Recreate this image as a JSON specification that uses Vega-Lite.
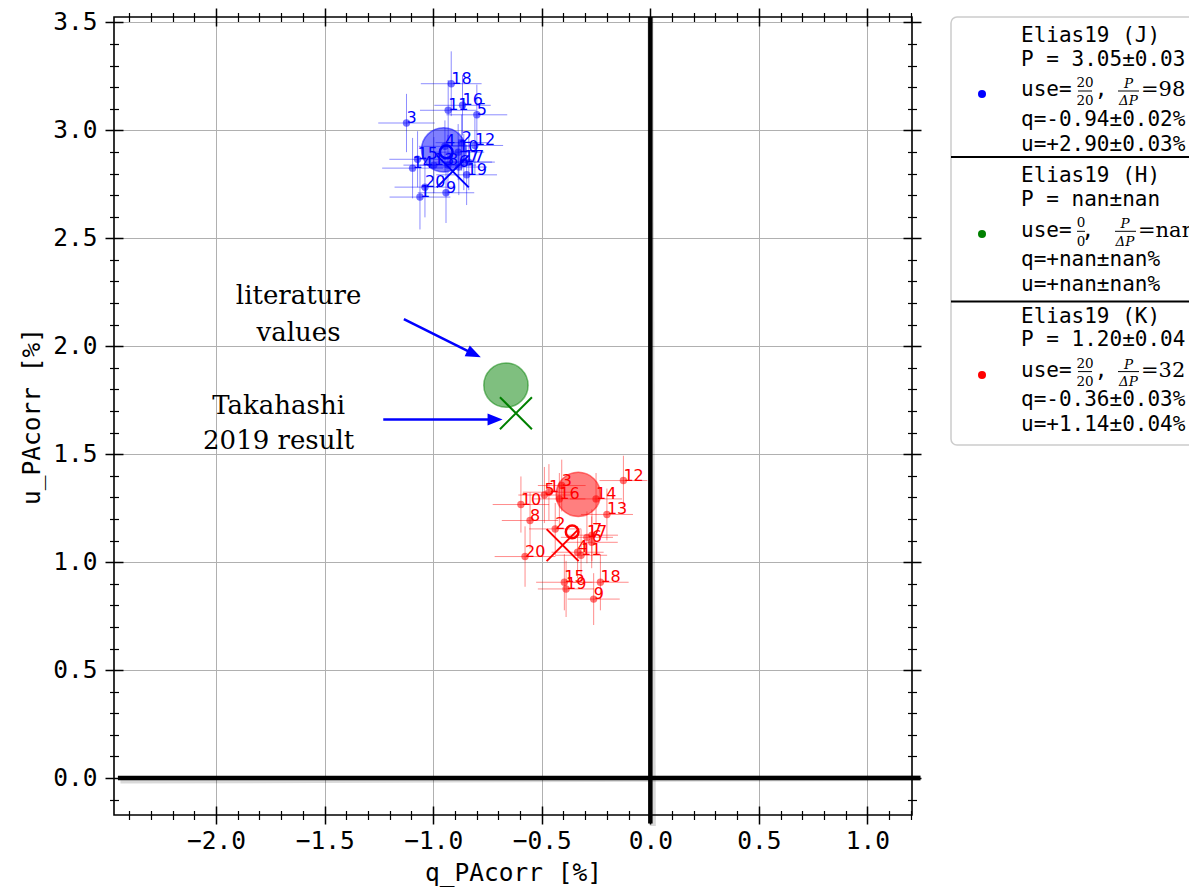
{
  "$schema": "https://vega.github.io/schema/vega-lite/v6.json",
  "background": "white",
  "padding": {"left": 18, "top": 6, "right": 0, "bottom": 14},
  "config": {
    "axis": {
      "domain": false,
      "grid": false,
      "tickColor": "#000000",
      "tickWidth": 1.5,
      "labelColor": "#000000",
      "labelFont": "DejaVu Sans Mono",
      "labelFontSize": 24.5,
      "labelFlush": false,
      "labelOverlap": false,
      "titleFont": "DejaVu Sans Mono",
      "titleFontSize": 24.5,
      "titleFontWeight": "normal",
      "titleColor": "#000000",
      "gridColor": "#b0b0b0",
      "gridWidth": 1
    }
  },
  "datasets": {
    "stars": [
      {"band": "J", "id": "1", "q": -1.061, "u": 2.691, "dq": 0.14, "du": 0.15},
      {"band": "J", "id": "2", "q": -0.869, "u": 2.943, "dq": 0.12, "du": 0.13},
      {"band": "J", "id": "3", "q": -1.123, "u": 3.034, "dq": 0.13, "du": 0.135},
      {"band": "J", "id": "4", "q": -0.946, "u": 2.926, "dq": 0.12, "du": 0.12},
      {"band": "J", "id": "5", "q": -0.799, "u": 3.072, "dq": 0.14, "du": 0.14},
      {"band": "J", "id": "6", "q": -0.882, "u": 2.83, "dq": 0.13, "du": 0.13},
      {"band": "J", "id": "7", "q": -0.836, "u": 2.853, "dq": 0.12, "du": 0.13},
      {"band": "J", "id": "8", "q": -0.932, "u": 2.839, "dq": 0.13, "du": 0.14},
      {"band": "J", "id": "9", "q": -0.941, "u": 2.711, "dq": 0.13, "du": 0.14},
      {"band": "J", "id": "10", "q": -0.885, "u": 2.899, "dq": 0.12, "du": 0.13},
      {"band": "J", "id": "11", "q": -0.931, "u": 3.093, "dq": 0.13, "du": 0.14},
      {"band": "J", "id": "12", "q": -0.808, "u": 2.93, "dq": 0.13, "du": 0.13},
      {"band": "J", "id": "13", "q": -0.997, "u": 2.839, "dq": 0.14, "du": 0.13},
      {"band": "J", "id": "14", "q": -1.095, "u": 2.825, "dq": 0.14, "du": 0.14},
      {"band": "J", "id": "15", "q": -1.072, "u": 2.866, "dq": 0.13, "du": 0.13},
      {"band": "J", "id": "16", "q": -0.865, "u": 3.116, "dq": 0.13, "du": 0.14},
      {"band": "J", "id": "17", "q": -0.859, "u": 2.853, "dq": 0.13, "du": 0.13},
      {"band": "J", "id": "18", "q": -0.917, "u": 3.216, "dq": 0.14, "du": 0.15},
      {"band": "J", "id": "19", "q": -0.846, "u": 2.794, "dq": 0.14, "du": 0.14},
      {"band": "J", "id": "20", "q": -1.038, "u": 2.737, "dq": 0.14, "du": 0.14},
      {"band": "K", "id": "1", "q": -0.467, "u": 1.324, "dq": 0.12, "du": 0.13},
      {"band": "K", "id": "2", "q": -0.438, "u": 1.154, "dq": 0.12, "du": 0.12},
      {"band": "K", "id": "3", "q": -0.408, "u": 1.355, "dq": 0.11, "du": 0.12},
      {"band": "K", "id": "4", "q": -0.335, "u": 1.046, "dq": 0.12, "du": 0.12},
      {"band": "K", "id": "5", "q": -0.488, "u": 1.311, "dq": 0.12, "du": 0.13},
      {"band": "K", "id": "6", "q": -0.27, "u": 1.092, "dq": 0.12, "du": 0.12},
      {"band": "K", "id": "7", "q": -0.269, "u": 1.125, "dq": 0.12, "du": 0.12},
      {"band": "K", "id": "8", "q": -0.554, "u": 1.193, "dq": 0.13, "du": 0.13},
      {"band": "K", "id": "9", "q": -0.261, "u": 0.829, "dq": 0.12, "du": 0.12},
      {"band": "K", "id": "10", "q": -0.596, "u": 1.267, "dq": 0.13, "du": 0.13},
      {"band": "K", "id": "11", "q": -0.319, "u": 1.032, "dq": 0.12, "du": 0.12},
      {"band": "K", "id": "12", "q": -0.124, "u": 1.378, "dq": 0.11, "du": 0.115},
      {"band": "K", "id": "13", "q": -0.2, "u": 1.221, "dq": 0.12, "du": 0.12},
      {"band": "K", "id": "14", "q": -0.25, "u": 1.293, "dq": 0.12, "du": 0.12},
      {"band": "K", "id": "15", "q": -0.396, "u": 0.907, "dq": 0.13, "du": 0.13},
      {"band": "K", "id": "16", "q": -0.419, "u": 1.293, "dq": 0.12, "du": 0.12},
      {"band": "K", "id": "17", "q": -0.292, "u": 1.115, "dq": 0.12, "du": 0.12},
      {"band": "K", "id": "18", "q": -0.23, "u": 0.907, "dq": 0.13, "du": 0.13},
      {"band": "K", "id": "19", "q": -0.388, "u": 0.876, "dq": 0.13, "du": 0.13},
      {"band": "K", "id": "20", "q": -0.577, "u": 1.026, "dq": 0.14, "du": 0.14}
    ],
    "literature": [
      {"band": "J", "q": -0.952, "u": 2.91},
      {"band": "H", "q": -0.665, "u": 1.82},
      {"band": "K", "q": -0.332, "u": 1.314}
    ],
    "takahashi": [
      {"band": "J", "q": -0.91, "u": 2.81},
      {"band": "H", "q": -0.619, "u": 1.69},
      {"band": "K", "q": -0.404, "u": 1.079}
    ],
    "elias_mean": [
      {"band": "J", "q": -0.94, "u": 2.9},
      {"band": "K", "q": -0.36, "u": 1.14}
    ],
    "zero_lines": [
      {"q1": -2.452, "q2": 1.244, "u1": 0, "u2": 0},
      {"q1": 0, "q2": 0, "u1": -0.21, "u2": 3.525}
    ],
    "arrow_shafts": [
      {"arrow": "literature", "q1": -1.135, "u1": 2.126, "q2": -0.812, "u2": 1.964},
      {"arrow": "takahashi", "q1": -1.23, "u1": 1.661, "q2": -0.715, "u2": 1.661}
    ],
    "notes": [
      {"q": -1.62, "u": 2.195, "text": "literature"},
      {"q": -1.62, "u": 2.024, "text": "values"},
      {"q": -1.712, "u": 1.687, "text": "Takahashi"},
      {"q": -1.712, "u": 1.525, "text": "2019 result"}
    ],
    "legend_mono": [
      {"x": 70, "y": 25, "text": "Elias19 (J)"},
      {"x": 70, "y": 48.6, "text": "P = 3.05±0.03"},
      {"x": 70, "y": 79.2, "text": "use="},
      {"x": 143.7, "y": 79.2, "text": ","},
      {"x": 70, "y": 108.6, "text": "q=-0.94±0.02%"},
      {"x": 70, "y": 133.7, "text": "u=+2.90±0.03%"},
      {"x": 70, "y": 165.3, "text": "Elias19 (H)"},
      {"x": 70, "y": 188.9, "text": "P = nan±nan"},
      {"x": 70, "y": 219.5, "text": "use="},
      {"x": 130.4, "y": 219.5, "text": ","},
      {"x": 70, "y": 248.9, "text": "q=+nan±nan%"},
      {"x": 70, "y": 274, "text": "u=+nan±nan%"},
      {"x": 70, "y": 305.6, "text": "Elias19 (K)"},
      {"x": 70, "y": 329.2, "text": "P = 1.20±0.04"},
      {"x": 70, "y": 359.8, "text": "use="},
      {"x": 143.7, "y": 359.8, "text": ","},
      {"x": 70, "y": 389.2, "text": "q=-0.36±0.03%"},
      {"x": 70, "y": 414.3, "text": "u=+1.14±0.04%"}
    ],
    "legend_frac_num": [
      {"x": 134, "y": 70, "text": "20"},
      {"x": 134, "y": 88.3, "text": "20"},
      {"x": 130, "y": 210.3, "text": "0"},
      {"x": 130, "y": 228.6, "text": "0"},
      {"x": 134, "y": 350.6, "text": "20"},
      {"x": 134, "y": 368.9, "text": "20"}
    ],
    "legend_frac_sym": [
      {"x": 177.5, "y": 71, "text": "P"},
      {"x": 177.5, "y": 88.3, "text": "ΔP"},
      {"x": 174, "y": 211.3, "text": "P"},
      {"x": 174, "y": 228.6, "text": "ΔP"},
      {"x": 177.5, "y": 351.6, "text": "P"},
      {"x": 177.5, "y": 368.9, "text": "ΔP"}
    ],
    "legend_frac_bars": [
      {"x1": 127, "x2": 141, "y": 74},
      {"x1": 167, "x2": 188, "y": 74},
      {"x1": 126, "x2": 134, "y": 214.3},
      {"x1": 164, "x2": 185, "y": 214.3},
      {"x1": 127, "x2": 141, "y": 354.6},
      {"x1": 167, "x2": 188, "y": 354.6}
    ],
    "legend_ratio": [
      {"x": 190, "y": 79.2, "text": "=98"},
      {"x": 187, "y": 219.5, "text": "=nan"},
      {"x": 190, "y": 359.8, "text": "=32"}
    ],
    "legend_dividers": [
      {"x1": 0, "x2": 250, "y": 140},
      {"x1": 0, "x2": 250, "y": 284.5}
    ],
    "legend_dots": [
      {"band": "J", "x": 31, "y": 77},
      {"band": "H", "x": 31, "y": 217},
      {"band": "K", "x": 31, "y": 358}
    ]
  },
  "hconcat": [
    {
      "width": 798,
      "height": 798,
      "view": {"stroke": "#000000", "strokeWidth": 1.6},
      "resolve": {"axis": {"x": "independent", "y": "independent"}},
      "layer": [
        {
          "data": {"name": "zero_lines"},
          "mark": {"type": "rule", "stroke": "#000000", "strokeWidth": 6, "opacity": 0.15, "xOffset": 2.5, "yOffset": 2.5},
          "encoding": {
            "x": {"field": "q1", "type": "quantitative", "scale": {"domain": [-2.47, 1.205], "nice": false, "zero": false},
              "axis": {"orient": "bottom", "values": [-2, -1.5, -1, -0.5, 0, 0.5, 1], "grid": true, "ticks": false, "labels": false, "title": null}},
            "x2": {"field": "q2"},
            "y": {"field": "u1", "type": "quantitative", "scale": {"domain": [-0.171, 3.525], "nice": false, "zero": false},
              "axis": {"orient": "left", "values": [0, 0.5, 1, 1.5, 2, 2.5, 3, 3.5], "grid": true, "ticks": false, "labels": false, "title": null}},
            "y2": {"field": "u2"}
          }
        },
        {
          "data": {"name": "zero_lines"},
          "mark": {"type": "rule", "stroke": "#000000", "strokeWidth": 4.5},
          "encoding": {
            "x": {"field": "q1", "type": "quantitative", "scale": {"domain": [-2.47, 1.205], "nice": false, "zero": false},
              "axis": {"orient": "bottom", "values": [-2, -1.5, -1, -0.5, 0, 0.5, 1], "format": ".1f", "offset": -9, "tickSize": 18, "labelPadding": 5, "title": "q_PAcorr [%]", "titlePadding": 9}},
            "x2": {"field": "q2"},
            "y": {"field": "u1", "type": "quantitative", "scale": {"domain": [-0.171, 3.525], "nice": false, "zero": false},
              "axis": {"orient": "left", "values": [0, 0.5, 1, 1.5, 2, 2.5, 3, 3.5], "format": ".1f", "offset": -9, "tickSize": 18, "labelPadding": 8, "title": "u_PAcorr [%]", "titlePadding": 8}},
            "y2": {"field": "u2"}
          }
        },
        {
          "data": {"name": "stars"},
          "mark": {"type": "errorbar", "ticks": false, "rule": {"strokeWidth": 1, "opacity": 0.45}},
          "encoding": {
            "x": {"field": "q", "type": "quantitative", "scale": {"domain": [-2.47, 1.205], "nice": false, "zero": false}, "axis": null},
            "xError": {"field": "dq"},
            "y": {"field": "u", "type": "quantitative", "scale": {"domain": [-0.171, 3.525], "nice": false, "zero": false}, "axis": null},
            "color": {"field": "band", "type": "nominal", "scale": {"domain": ["J", "H", "K"], "range": ["#0000ff", "#008000", "#ff0000"]}, "legend": null}
          }
        },
        {
          "data": {"name": "stars"},
          "mark": {"type": "errorbar", "ticks": false, "rule": {"strokeWidth": 1, "opacity": 0.45}},
          "encoding": {
            "y": {"field": "u", "type": "quantitative", "scale": {"domain": [-0.171, 3.525], "nice": false, "zero": false}, "axis": null},
            "yError": {"field": "du"},
            "x": {"field": "q", "type": "quantitative", "scale": {"domain": [-2.47, 1.205], "nice": false, "zero": false}, "axis": null},
            "color": {"field": "band", "type": "nominal", "scale": {"domain": ["J", "H", "K"], "range": ["#0000ff", "#008000", "#ff0000"]}, "legend": null}
          }
        },
        {
          "data": {"name": "stars"},
          "mark": {"type": "point", "shape": "circle", "filled": true, "size": 55, "opacity": 0.55},
          "encoding": {
            "x": {"field": "q", "type": "quantitative", "scale": {"domain": [-2.47, 1.205], "nice": false, "zero": false},
              "axis": {"orient": "bottom", "values": [-2.4, -2.3, -2.2, -2.1, -1.9, -1.8, -1.7, -1.6, -1.4, -1.3, -1.2, -1.1, -0.9, -0.8, -0.7, -0.6, -0.4, -0.3, -0.2, -0.1, 0.1, 0.2, 0.3, 0.4, 0.6, 0.7, 0.8, 0.9, 1.1, 1.2], "labels": false, "offset": -4.5, "tickSize": 9, "tickWidth": 1.2, "title": null}},
            "y": {"field": "u", "type": "quantitative", "scale": {"domain": [-0.171, 3.525], "nice": false, "zero": false},
              "axis": {"orient": "left", "values": [-0.1, 0.1, 0.2, 0.3, 0.4, 0.6, 0.7, 0.8, 0.9, 1.1, 1.2, 1.3, 1.4, 1.6, 1.7, 1.8, 1.9, 2.1, 2.2, 2.3, 2.4, 2.6, 2.7, 2.8, 2.9, 3.1, 3.2, 3.3, 3.4], "labels": false, "offset": -4.5, "tickSize": 9, "tickWidth": 1.2, "title": null}},
            "color": {"field": "band", "type": "nominal", "scale": {"domain": ["J", "H", "K"], "range": ["#0000ff", "#008000", "#ff0000"]}, "legend": null}
          }
        },
        {
          "data": {"name": "stars"},
          "mark": {"type": "text", "align": "left", "baseline": "alphabetic", "font": "DejaVu Sans", "fontSize": 16},
          "encoding": {
            "x": {"field": "q", "type": "quantitative", "scale": {"domain": [-2.47, 1.205], "nice": false, "zero": false},
              "axis": {"orient": "top", "values": [-2, -1.5, -1, -0.5, 0, 0.5, 1], "labels": false, "offset": -9, "tickSize": 18, "title": null}},
            "y": {"field": "u", "type": "quantitative", "scale": {"domain": [-0.171, 3.525], "nice": false, "zero": false},
              "axis": {"orient": "right", "values": [0, 0.5, 1, 1.5, 2, 2.5, 3, 3.5], "labels": false, "offset": -9, "tickSize": 18, "title": null}},
            "text": {"field": "id"},
            "color": {"field": "band", "type": "nominal", "scale": {"domain": ["J", "H", "K"], "range": ["#0000ff", "#008000", "#ff0000"]}, "legend": null}
          }
        },
        {
          "data": {"name": "literature"},
          "mark": {"type": "point", "shape": "circle", "size": 1960, "strokeWidth": 1.5, "fillOpacity": 0.5, "strokeOpacity": 0.5},
          "encoding": {
            "x": {"field": "q", "type": "quantitative", "scale": {"domain": [-2.47, 1.205], "nice": false, "zero": false},
              "axis": {"orient": "top", "values": [-2.4, -2.3, -2.2, -2.1, -1.9, -1.8, -1.7, -1.6, -1.4, -1.3, -1.2, -1.1, -0.9, -0.8, -0.7, -0.6, -0.4, -0.3, -0.2, -0.1, 0.1, 0.2, 0.3, 0.4, 0.6, 0.7, 0.8, 0.9, 1.1, 1.2], "labels": false, "offset": -4.5, "tickSize": 9, "tickWidth": 1.2, "title": null}},
            "y": {"field": "u", "type": "quantitative", "scale": {"domain": [-0.171, 3.525], "nice": false, "zero": false},
              "axis": {"orient": "right", "values": [-0.1, 0.1, 0.2, 0.3, 0.4, 0.6, 0.7, 0.8, 0.9, 1.1, 1.2, 1.3, 1.4, 1.6, 1.7, 1.8, 1.9, 2.1, 2.2, 2.3, 2.4, 2.6, 2.7, 2.8, 2.9, 3.1, 3.2, 3.3, 3.4], "labels": false, "offset": -4.5, "tickSize": 9, "tickWidth": 1.2, "title": null}},
            "fill": {"field": "band", "type": "nominal", "scale": {"domain": ["J", "H", "K"], "range": ["#0000ff", "#008000", "#ff0000"]}, "legend": null},
            "stroke": {"field": "band", "type": "nominal", "scale": {"domain": ["J", "H", "K"], "range": ["#0000ff", "#008000", "#ff0000"]}, "legend": null}
          }
        },
        {
          "data": {"name": "takahashi"},
          "mark": {"type": "point", "shape": "M-1,-1L1,1M-1,1L1,-1", "filled": false, "size": 1024, "strokeWidth": 2, "opacity": 1},
          "encoding": {
            "x": {"field": "q", "type": "quantitative", "scale": {"domain": [-2.47, 1.205], "nice": false, "zero": false}, "axis": null},
            "y": {"field": "u", "type": "quantitative", "scale": {"domain": [-0.171, 3.525], "nice": false, "zero": false}, "axis": null},
            "color": {"field": "band", "type": "nominal", "scale": {"domain": ["J", "H", "K"], "range": ["#0000ff", "#008000", "#ff0000"]}, "legend": null}
          }
        },
        {
          "data": {"name": "elias_mean"},
          "mark": {"type": "point", "shape": "circle", "filled": false, "size": 160, "strokeWidth": 2.5, "opacity": 1},
          "encoding": {
            "x": {"field": "q", "type": "quantitative", "scale": {"domain": [-2.47, 1.205], "nice": false, "zero": false}, "axis": null},
            "y": {"field": "u", "type": "quantitative", "scale": {"domain": [-0.171, 3.525], "nice": false, "zero": false}, "axis": null},
            "color": {"field": "band", "type": "nominal", "scale": {"domain": ["J", "H", "K"], "range": ["#0000ff", "#008000", "#ff0000"]}, "legend": null}
          }
        },
        {
          "data": {"name": "arrow_shafts"},
          "mark": {"type": "rule", "stroke": "#0000ff", "strokeWidth": 2.5},
          "encoding": {
            "x": {"field": "q1", "type": "quantitative", "scale": {"domain": [-2.47, 1.205], "nice": false, "zero": false}, "axis": null},
            "x2": {"field": "q2"},
            "y": {"field": "u1", "type": "quantitative", "scale": {"domain": [-0.171, 3.525], "nice": false, "zero": false}, "axis": null},
            "y2": {"field": "u2"}
          }
        },
        {
          "data": {"values": [{"q": -0.812, "u": 1.964}]},
          "mark": {"type": "point", "shape": "M1,0L-1,-0.8L-1,0.8Z", "filled": true, "size": 225, "angle": 25, "color": "#0000ff", "opacity": 1},
          "encoding": {
            "x": {"field": "q", "type": "quantitative", "scale": {"domain": [-2.47, 1.205], "nice": false, "zero": false}, "axis": null},
            "y": {"field": "u", "type": "quantitative", "scale": {"domain": [-0.171, 3.525], "nice": false, "zero": false}, "axis": null}
          }
        },
        {
          "data": {"values": [{"q": -0.715, "u": 1.661}]},
          "mark": {"type": "point", "shape": "M1,0L-1,-0.8L-1,0.8Z", "filled": true, "size": 225, "angle": 0, "color": "#0000ff", "opacity": 1},
          "encoding": {
            "x": {"field": "q", "type": "quantitative", "scale": {"domain": [-2.47, 1.205], "nice": false, "zero": false}, "axis": null},
            "y": {"field": "u", "type": "quantitative", "scale": {"domain": [-0.171, 3.525], "nice": false, "zero": false}, "axis": null}
          }
        },
        {
          "data": {"name": "notes"},
          "mark": {"type": "text", "align": "center", "baseline": "alphabetic", "font": "DejaVu Serif", "fontSize": 26, "color": "#000000"},
          "encoding": {
            "x": {"field": "q", "type": "quantitative", "scale": {"domain": [-2.47, 1.205], "nice": false, "zero": false}, "axis": null},
            "y": {"field": "u", "type": "quantitative", "scale": {"domain": [-0.171, 3.525], "nice": false, "zero": false}, "axis": null},
            "text": {"field": "text"}
          }
        }
      ]
    },
    {
      "width": 250,
      "height": 428,
      "view": {"stroke": "#cccccc", "strokeWidth": 1.5, "cornerRadius": 6},
      "layer": [
        {
          "data": {"name": "legend_dividers"},
          "mark": {"type": "rule", "stroke": "#000000", "strokeWidth": 2},
          "encoding": {
            "x": {"field": "x1", "type": "quantitative", "scale": {"domain": [0, 250]}, "axis": null},
            "x2": {"field": "x2"},
            "y": {"field": "y", "type": "quantitative", "scale": {"domain": [0, 428], "reverse": true}, "axis": null}
          }
        },
        {
          "data": {"name": "legend_dots"},
          "mark": {"type": "point", "shape": "circle", "filled": true, "size": 64, "opacity": 1},
          "encoding": {
            "x": {"field": "x", "type": "quantitative", "scale": {"domain": [0, 250]}, "axis": null},
            "y": {"field": "y", "type": "quantitative", "scale": {"domain": [0, 428], "reverse": true}, "axis": null},
            "color": {"field": "band", "type": "nominal", "scale": {"domain": ["J", "H", "K"], "range": ["#0000ff", "#008000", "#ff0000"]}, "legend": null}
          }
        },
        {
          "data": {"name": "legend_mono"},
          "mark": {"type": "text", "align": "left", "baseline": "alphabetic", "font": "DejaVu Sans Mono", "fontSize": 21, "color": "#000000"},
          "encoding": {
            "x": {"field": "x", "type": "quantitative", "scale": {"domain": [0, 250]}, "axis": null},
            "y": {"field": "y", "type": "quantitative", "scale": {"domain": [0, 428], "reverse": true}, "axis": null},
            "text": {"field": "text"}
          }
        },
        {
          "data": {"name": "legend_frac_num"},
          "mark": {"type": "text", "align": "center", "baseline": "alphabetic", "font": "DejaVu Serif", "fontSize": 13.5, "color": "#000000"},
          "encoding": {
            "x": {"field": "x", "type": "quantitative", "scale": {"domain": [0, 250]}, "axis": null},
            "y": {"field": "y", "type": "quantitative", "scale": {"domain": [0, 428], "reverse": true}, "axis": null},
            "text": {"field": "text"}
          }
        },
        {
          "data": {"name": "legend_frac_sym"},
          "mark": {"type": "text", "align": "center", "baseline": "alphabetic", "font": "DejaVu Serif", "fontStyle": "italic", "fontSize": 13.5, "color": "#000000"},
          "encoding": {
            "x": {"field": "x", "type": "quantitative", "scale": {"domain": [0, 250]}, "axis": null},
            "y": {"field": "y", "type": "quantitative", "scale": {"domain": [0, 428], "reverse": true}, "axis": null},
            "text": {"field": "text"}
          }
        },
        {
          "data": {"name": "legend_frac_bars"},
          "mark": {"type": "rule", "stroke": "#000000", "strokeWidth": 1},
          "encoding": {
            "x": {"field": "x1", "type": "quantitative", "scale": {"domain": [0, 250]}, "axis": null},
            "x2": {"field": "x2"},
            "y": {"field": "y", "type": "quantitative", "scale": {"domain": [0, 428], "reverse": true}, "axis": null}
          }
        },
        {
          "data": {"name": "legend_ratio"},
          "mark": {"type": "text", "align": "left", "baseline": "alphabetic", "font": "DejaVu Serif", "fontSize": 21, "color": "#000000"},
          "encoding": {
            "x": {"field": "x", "type": "quantitative", "scale": {"domain": [0, 250]}, "axis": null},
            "y": {"field": "y", "type": "quantitative", "scale": {"domain": [0, 428], "reverse": true}, "axis": null},
            "text": {"field": "text"}
          }
        }
      ]
    }
  ],
  "spacing": 39,
  "bounds": "flush"
}
